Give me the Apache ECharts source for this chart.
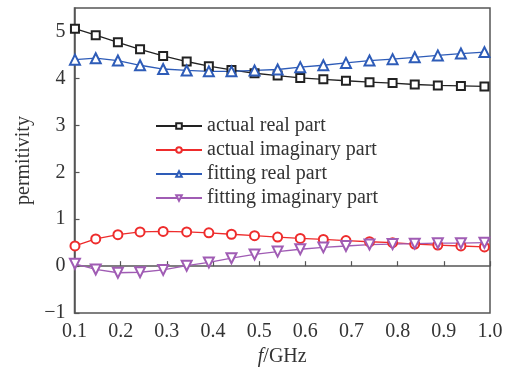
<!DOCTYPE html>
<html>
<head>
<meta charset="utf-8">
<script src="https://cdn.jsdelivr.net/npm/echarts@6/dist/echarts.min.js"></script>
<style>html,body{margin:0;padding:0;background:#fff}#c{width:510px;height:372px}</style>
</head>
<body>
<div id="c"></div>
<script>
var freq = [0.101,0.146,0.194,0.242,0.292,0.343,0.391,0.440,0.490,0.540,0.589,0.639,0.688,0.739,0.789,0.837,0.887,0.937,0.988];
var actualReal = [5.06,4.92,4.77,4.62,4.48,4.36,4.26,4.18,4.11,4.06,4.01,3.98,3.95,3.92,3.90,3.87,3.85,3.84,3.83];
var actualImag = [0.43,0.58,0.67,0.73,0.74,0.73,0.71,0.68,0.65,0.62,0.59,0.57,0.545,0.52,0.50,0.47,0.45,0.43,0.41];
var fittingReal = [4.40,4.43,4.38,4.28,4.20,4.17,4.15,4.15,4.17,4.19,4.24,4.28,4.33,4.38,4.41,4.45,4.49,4.53,4.56];
var fittingImag = [0.05,-0.07,-0.14,-0.13,-0.08,0.01,0.08,0.17,0.25,0.31,0.36,0.40,0.43,0.46,0.47,0.48,0.49,0.49,0.50];
var names = ['actual real part','actual imaginary part','fitting real part','fitting imaginary part'];

function pairs(ys){ return freq.map(function(x,i){ return [x, ys[i]]; }); }
var font = 'Liberation Serif';
var chart = echarts.init(document.getElementById('c'));
function mk(name, ys, color, symbol, size, rot){
  return {
    name: name, type: 'line', data: pairs(ys),
    symbol: symbol, symbolSize: size, symbolRotate: rot || 0,
    lineStyle: {color: color, width: 1.3},
    itemStyle: {color: color, borderColor: color, borderWidth: 1.3},
    emphasis: {disabled: true}, z: 3
  };
}
chart.setOption({
  animation: false,
  grid: {left: 74.5, right: 20, top: 8, bottom: 51.5, show: true, borderColor: '#555', borderWidth: 1.5, backgroundColor: 'transparent'},
  legend: {
    orient: 'vertical', left: 150, top: 111, itemWidth: 46, itemHeight: 7, itemGap: 4,
    textStyle: {fontFamily: font, fontSize: 20, color: '#333'},
    data: names
  },
  xAxis: {
    type: 'value', min: 0.1, max: 1.0, interval: 0.1,
    name: '{i|f}/GHz', nameLocation: 'middle', nameGap: 30,
    nameTextStyle: {fontFamily: font, fontSize: 20, color: '#333', rich: {i: {fontFamily: font, fontSize: 20, fontStyle: 'italic', color: '#333'}}},
    axisLine: {show: true, lineStyle: {color: '#555', width: 1.5}},
    axisTick: {show: true, inside: true, length: 5, lineStyle: {color: '#555', width: 1.2}},
    axisLabel: {fontFamily: font, fontSize: 20, color: '#333', margin: 9, formatter: function(v){ return v.toFixed(1); }},
    splitLine: {show: false}
  },
  yAxis: {
    type: 'value', min: -1, max: 5.5, interval: 1,
    name: 'permitivity', nameLocation: 'middle', nameGap: 32, nameRotate: 90,
    nameTextStyle: {fontFamily: font, fontSize: 20, color: '#333'},
    axisLine: {show: true, lineStyle: {color: '#555', width: 1.5}},
    axisTick: {show: true, inside: true, length: 5, lineStyle: {color: '#555', width: 1.2}},
    axisLabel: {fontFamily: font, fontSize: 20, color: '#333', margin: 9, showMaxLabel: false,
      formatter: function(v){ return v < 0 ? '\u2212' + Math.abs(v) : String(v); }},
    splitLine: {show: false}
  },
  series: [
    mk(names[0], actualReal, '#222222', 'emptyRect', 8),
    mk(names[1], actualImag, '#ee2c2c', 'emptyCircle', 9),
    mk(names[2], fittingReal, '#2e5cb8', 'emptyTriangle', 10),
    mk(names[3], fittingImag, '#a05cb4', 'emptyTriangle', 10, 180)
  ]
});
</script>
</body>
</html>
